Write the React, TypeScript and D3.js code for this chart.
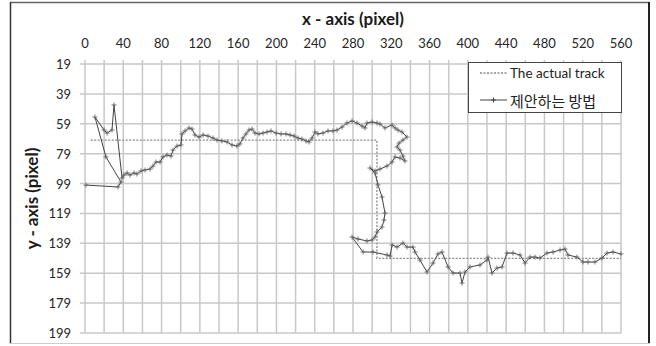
import React from "react";
import * as d3 from "d3";

const xTicks = [0, 40, 80, 120, 160, 200, 240, 280, 320, 360, 400, 440, 480, 520, 560];
const yTicks = [19, 39, 59, 79, 99, 119, 139, 159, 179, 199];

const actualX = [6, 305, 305, 560];
const actualY = [70, 70, 149, 149];

const estX = [
  1.0, 34.5, 37.6, 21.9, 10.4, 19.9, 23.0, 28.2, 30.3, 38.7,
  40.7, 43.9, 47.0, 51.2, 54.3, 58.5, 62.7, 67.9, 71.0, 74.2,
  78.4, 81.5, 85.7, 89.9, 91.9, 96.1, 100.3, 101.3, 104.5, 108.7,
  111.8, 114.9, 119.1, 123.3, 128.5, 133.7, 137.9, 143.1, 148.4, 153.6,
  158.8, 161.9, 165.1, 168.2, 171.3, 174.5, 177.6, 181.8, 186.0, 190.2,
  194.3, 199.6, 204.8, 210.0, 214.2, 218.4, 222.5, 226.7, 230.9, 234.0,
  237.2, 240.3, 243.4, 248.7, 253.9, 259.1, 263.3, 268.5, 273.7, 279.0,
  284.2, 289.4, 292.5, 294.6, 299.9, 305.1, 308.2, 313.4, 320.8, 323.9,
  327.0, 331.2, 336.4, 332.2, 328.1, 326.0, 329.1, 332.2, 334.3, 329.1,
  323.9, 320.8, 315.5, 308.2, 303.0, 297.8, 303.0, 306.1, 310.3, 313.4,
  312.4, 310.3, 305.1, 303.0, 299.9, 294.6, 285.2, 279.0, 290.5, 300.9,
  315.5, 318.7, 320.8, 326.0, 332.2, 336.4, 342.7, 344.8, 350.0, 357.3,
  363.6, 368.8, 373.0, 379.3, 384.5, 391.8, 393.9, 397.0, 402.2, 412.7,
  420.0, 421.1, 425.2, 430.5, 435.7, 440.9, 447.2, 454.5, 459.7, 464.9,
  470.2, 475.4, 482.7, 489.0, 496.3, 501.5, 504.6, 514.0, 520.3, 525.5,
  532.8, 540.2, 545.4, 551.7, 560.0,
];
const estY = [
  100.0, 101.3, 98.0, 81.2, 54.5, 63.2, 65.2, 63.2, 46.4, 95.3,
  93.3, 91.9, 93.3, 91.9, 92.6, 90.6, 89.9, 89.3, 87.3, 84.6,
  84.6, 81.2, 79.9, 80.6, 76.6, 73.9, 73.2, 65.8, 63.8, 61.8,
  62.5, 66.5, 67.9, 66.5, 67.2, 68.5, 69.9, 70.5, 71.2, 73.2,
  73.9, 72.5, 68.5, 65.8, 63.2, 62.5, 65.2, 65.8, 65.2, 64.5,
  63.8, 65.2, 65.8, 65.8, 66.5, 67.2, 68.5, 69.2, 70.5, 71.2,
  68.5, 64.5, 65.8, 65.2, 63.8, 63.8, 63.2, 61.2, 58.5, 57.1,
  58.5, 60.5, 61.8, 58.5, 57.8, 58.5, 59.2, 61.8, 59.8, 61.8,
  63.2, 64.5, 67.9, 69.9, 71.9, 74.5, 76.6, 80.6, 83.9, 81.9,
  81.2, 84.6, 87.3, 89.3, 90.6, 88.6, 91.9, 99.9, 108.0, 118.7,
  123.4, 128.1, 131.4, 134.8, 136.8, 137.4, 136.1, 134.8, 144.8, 144.8,
  146.8, 147.5, 140.1, 141.5, 138.8, 141.5, 141.5, 144.8, 150.2, 158.2,
  152.2, 146.1, 144.8, 154.8, 158.9, 158.9, 165.6, 158.2, 154.8, 153.5,
  150.2, 148.2, 158.9, 155.5, 154.8, 145.5, 145.5, 146.8, 152.2, 148.2,
  148.2, 148.8, 145.5, 144.8, 143.5, 142.8, 146.8, 148.2, 151.5, 151.5,
  151.5, 148.8, 145.5, 144.8, 146.1,
];

const legendLabels = ["The actual track", "제안하는 방법"];

const W = 656;
const H = 346;
const font = "Lato, 'Open Sans', sans-serif";

export default function App() {
  const x = d3.scaleLinear().domain([0, 560]).range([85, 621]);
  const y = d3.scaleLinear().domain([19, 199]).range([64, 333]);
  const minor = d3.range(0, 561, 20);

  const actualPts: [number, number][] = actualX.map((v, i) => [v, actualY[i]]);
  const estPts: [number, number][] = estX.map((v, i) => [v, estY[i]]);
  const line = d3
    .line<[number, number]>()
    .x((d) => x(d[0]))
    .y((d) => y(d[1]));

  const [x0, x1] = x.range();
  const [y0, y1] = y.range();

  return (
    <svg
      width={W}
      height={H}
      style={{ position: "absolute", left: 0, top: 0, background: "#fff" }}
      fontFamily={font}
    >
      <rect x={0} y={0} width={W} height={H} fill="#fff" />
      {/* outer frame */}
      <line x1={10} x2={650} y1={2.5} y2={2.5} stroke="#666" strokeWidth={1.5} />
      <line x1={10.5} x2={10.5} y1={2} y2={344} stroke="#333" strokeWidth={1.5} />
      <line x1={649} x2={649} y1={2} y2={344} stroke="#222" strokeWidth={2} />
      <line x1={10} x2={650} y1={343.5} y2={343.5} stroke="#ccc" strokeWidth={1} />

      {/* grid */}
      {minor.map((v) => (
        <line
          key={"v" + v}
          x1={x(v)}
          x2={x(v)}
          y1={y0 - 4}
          y2={y1}
          stroke="#c8c8c8"
          strokeWidth={1.5}
        />
      ))}
      {yTicks.map((v) => (
        <line
          key={"h" + v}
          x1={x0 - 5}
          x2={x1}
          y1={y(v)}
          y2={y(v)}
          stroke="#c8c8c8"
          strokeWidth={1.5}
        />
      ))}

      {/* tick labels */}
      {xTicks.map((v) => (
        <text
          key={"xt" + v}
          x={x(v)}
          y={43}
          textAnchor="middle"
          dominantBaseline="central"
          fontSize={13}
          fill="#262626"
        >
          {v}
        </text>
      ))}
      {yTicks.map((v) => (
        <text
          key={"yt" + v}
          x={71}
          y={y(v)}
          textAnchor="end"
          dominantBaseline="central"
          fontSize={13}
          fill="#262626"
        >
          {v}
        </text>
      ))}

      {/* titles */}
      <text
        x={(x0 + x1) / 2}
        y={18}
        textAnchor="middle"
        dominantBaseline="central"
        fontSize={17}
        fontWeight="bold"
        fill="#1a1a1a"
      >
        x - axis (pixel)
      </text>
      <text
        transform={`translate(31,${(y0 + y1) / 2}) rotate(-90)`}
        textAnchor="middle"
        dominantBaseline="central"
        fontSize={17}
        fontWeight="bold"
        fill="#1a1a1a"
      >
        y - axis (pixel)
      </text>

      {/* actual track */}
      <path
        d={line(actualPts) || ""}
        fill="none"
        stroke="#8a8a8a"
        strokeWidth={1.3}
        strokeDasharray="2,1.5"
      />

      {/* estimated track */}
      <path d={line(estPts) || ""} fill="none" stroke="#444" strokeWidth={1} />
      {estPts.map((d, i) => (
        <path
          key={"m" + i}
          d={`M${x(d[0]) - 2.5},${y(d[1])}h5M${x(d[0])},${y(d[1]) - 2.5}v5`}
          stroke="#666"
          strokeWidth={0.9}
        />
      ))}

      {/* legend */}
      <rect x={468.5} y={62.5} width={153} height={50} fill="#fff" stroke="#444" strokeWidth={1} />
      <line x1={480} x2={507} y1={73} y2={73} stroke="#8a8a8a" strokeWidth={1.3} strokeDasharray="2,1.5" />
      <text x={510} y={73} dominantBaseline="central" fontSize={13.5} fill="#222">
        {legendLabels[0]}
      </text>
      <line x1={480} x2={507} y1={100} y2={100} stroke="#444" strokeWidth={1} />
      <path d="M491,100h5M493.5,97.5v5" stroke="#444" strokeWidth={1} />
      <text
        x={510}
        y={100}
        dominantBaseline="central"
        fontSize={15}
        fill="#222"
        fontFamily="'Noto Sans CJK KR', sans-serif"
      >
        {legendLabels[1]}
      </text>
    </svg>
  );
}
